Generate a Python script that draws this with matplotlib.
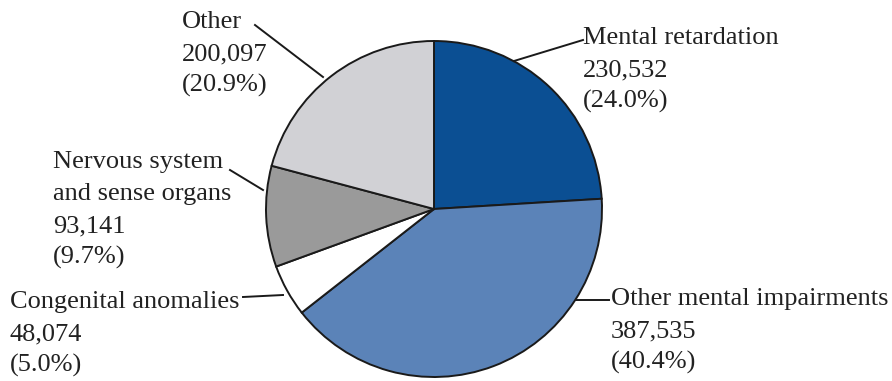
import matplotlib.pyplot as plt

# Impairment categories and counts
categories = ['Mental retardation', 'Other mental impairments', 'Congenital anomalies',
              'Nervous system\nand sense organs', 'Other']
counts = [230532, 387535, 48074, 93141, 200097]
colors = ['#0b4f93', '#5b83b8', '#ffffff', '#9a9a9a', '#d1d1d5']

# label anchor (x, baseline of first line) and leader line endpoints, in pixels from top-left
label_pos = [(583, 44), (611, 305), (10, 308), (53, 168), (182, 28)]
leaders = [((514, 61), (583, 40)),
           ((576, 300), (609, 300)),
           ((283, 295), (243, 297)),
           ((263, 190), (230, 170)),
           ((323, 77), (255, 25))]

W, H = 892, 381
fig = plt.figure(figsize=(W / 100, H / 100), dpi=100)
ax = fig.add_axes([0, 0, 1, 1])
ax.set_xlim(0, W)
ax.set_ylim(0, H)
ax.axis('off')

ax.pie(counts, colors=colors, startangle=90, counterclock=False,
       center=(434, H - 209), radius=168,
       wedgeprops=dict(edgecolor='#1a1a1a', linewidth=1.4))
ax.set_xlim(0, W)
ax.set_ylim(0, H)
ax.set_aspect('equal')

total = sum(counts)
font = dict(family='Liberation Serif', fontsize=19, color='#222222')
for name, n, (x, y), (p0, p1) in zip(categories, counts, label_pos, leaders):
    lines = name.split('\n') + [f'{n:,}', f'({100 * n / total:.1f}%)']
    for i, line in enumerate(lines):
        ax.text(x, H - (y + 32 * i), line, ha='left', va='baseline', **font)
    ax.plot([p0[0], p1[0]], [H - p0[1], H - p1[1]], color='#1a1a1a', lw=1.4)

fig.savefig('out.png', dpi=100)
